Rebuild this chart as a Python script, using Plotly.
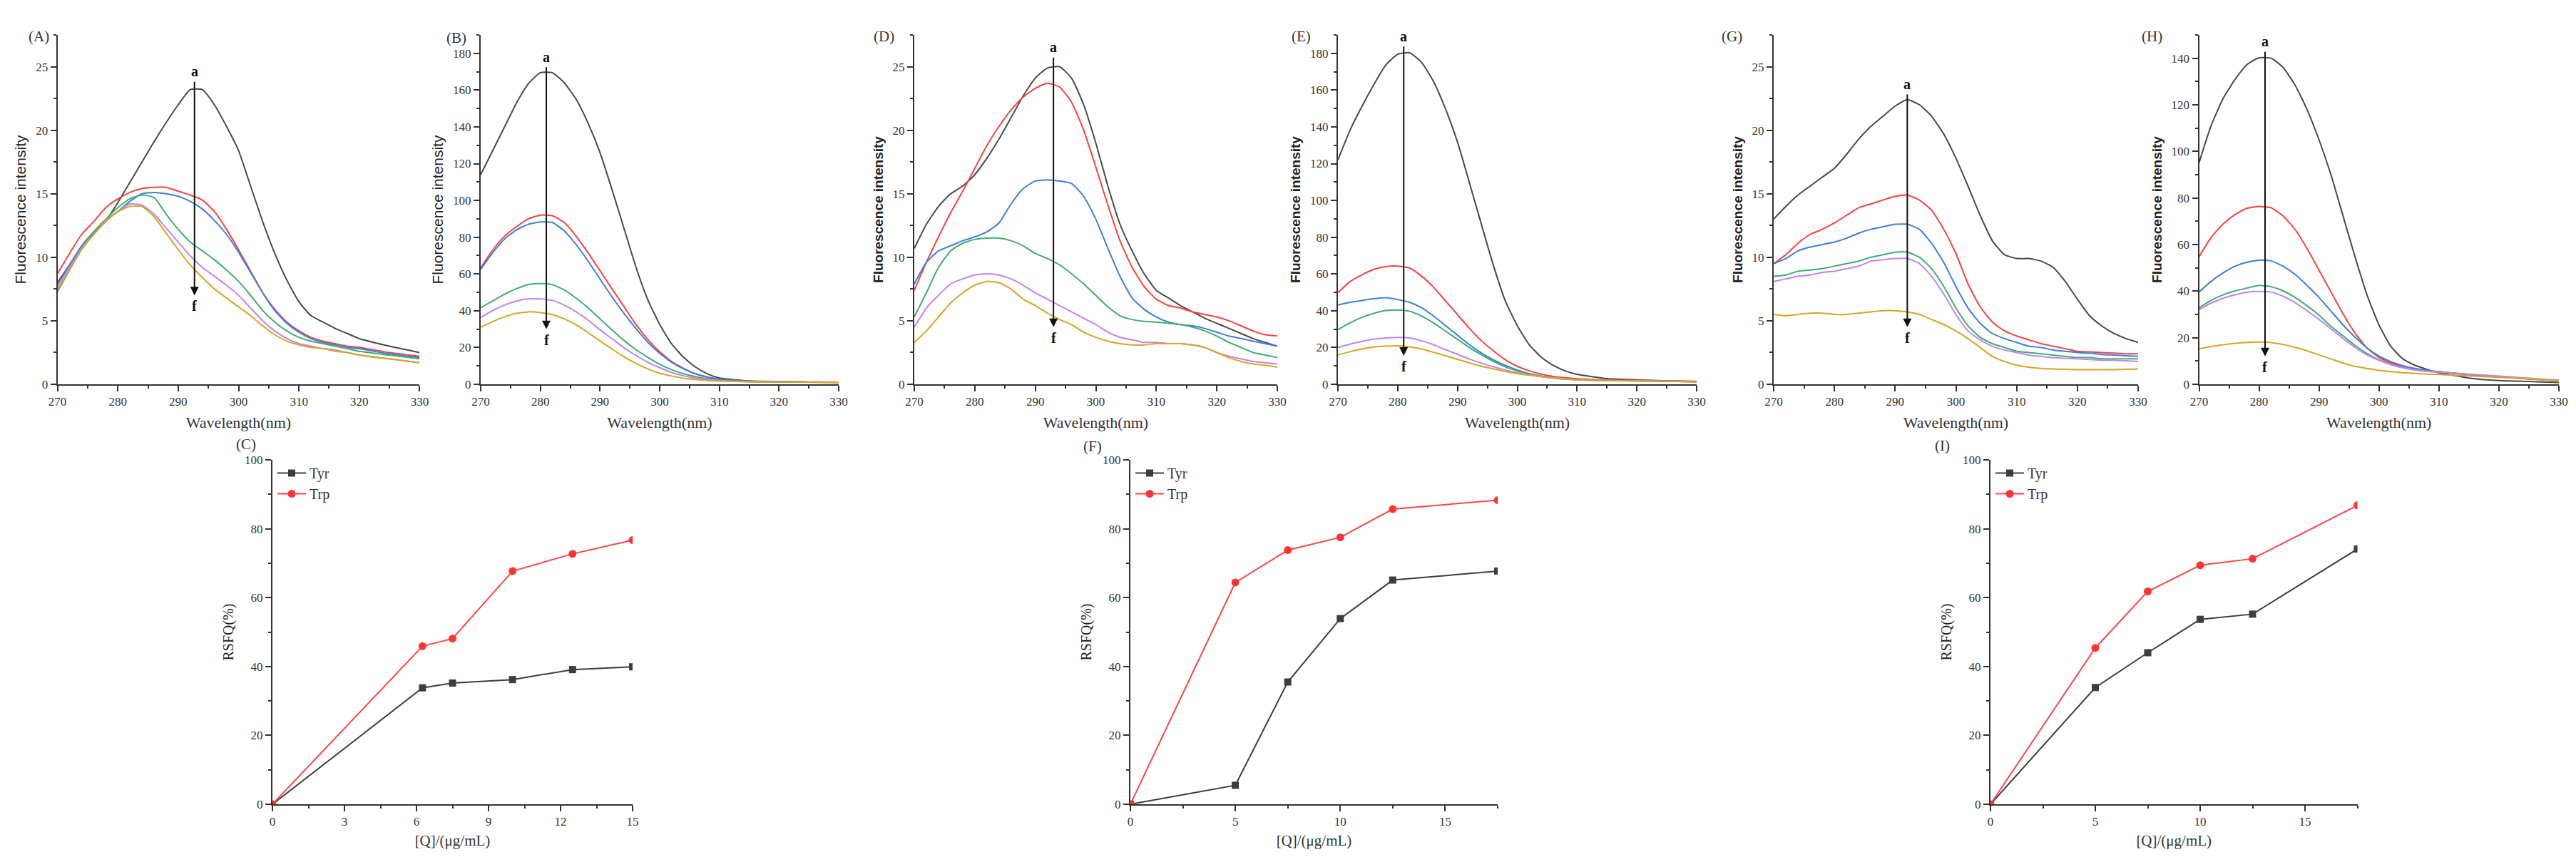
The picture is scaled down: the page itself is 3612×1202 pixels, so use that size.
import plotly.graph_objects as go

W, H = 3612, 1202

# wavelength grids (nm)
WL_A = [270, 272, 274, 276, 278, 280, 282, 284, 286, 288, 290, 292, 294, 296, 298, 300,
        302, 304, 306, 308, 310, 312, 314, 316, 318, 320, 325, 330]
WL_S = [270, 272, 274, 276, 278, 280, 282, 284, 286, 288, 290, 292, 294, 296, 298, 300,
        302, 304, 306, 308, 310, 315, 320, 325, 330]
WL_F = [270, 272, 274, 276, 278, 280, 282, 284, 286, 288, 290, 292, 294, 296, 298, 300,
        302, 304, 306, 308, 310, 312, 314, 316, 318, 320, 322, 324, 326, 328, 330]

# (A) curves a..f
A_a = [8.0, 9.4, 10.8, 11.9, 12.9, 14.3, 15.9, 17.5, 19.1, 20.6, 22.0, 23.2, 23.2, 22.0,
       20.3, 18.4, 15.6, 12.8, 10.3, 8.2, 6.5, 5.4, 4.9, 4.4, 4.0, 3.6, 3.0, 2.5]
A_b = [8.7, 10.3, 11.8, 12.8, 13.9, 14.6, 15.1, 15.4, 15.5, 15.5, 15.2, 14.9, 14.5, 13.6,
       12.2, 10.6, 8.9, 7.2, 5.9, 4.9, 4.2, 3.7, 3.4, 3.2, 3.0, 2.9, 2.5, 2.2]
A_c = [7.8, 9.4, 10.9, 12.0, 12.9, 13.6, 14.4, 15.0, 15.1, 15.0, 14.8, 14.4, 13.8, 12.9,
       11.8, 10.4, 8.8, 7.2, 5.8, 4.8, 4.1, 3.6, 3.3, 3.1, 2.9, 2.8, 2.4, 2.1]
A_d = [7.3, 9.0, 10.7, 12.0, 13.0, 13.9, 14.6, 14.9, 14.7, 13.4, 12.2, 11.2, 10.5, 9.8,
       9.0, 8.1, 7.0, 5.8, 4.9, 4.2, 3.7, 3.4, 3.2, 3.0, 2.8, 2.6, 2.3, 2.0]
A_e = [7.7, 9.2, 10.7, 11.8, 12.8, 13.6, 14.2, 14.1, 13.4, 12.3, 11.2, 10.1, 9.2, 8.5,
       7.8, 7.0, 6.0, 5.0, 4.2, 3.6, 3.2, 3.0, 2.8, 2.7, 2.5, 2.3, 2.0, 1.7]
A_f = [7.5, 9.0, 10.6, 11.8, 12.9, 13.6, 14.0, 14.0, 13.2, 11.9, 10.6, 9.4, 8.4, 7.5,
       6.8, 6.1, 5.4, 4.6, 3.9, 3.4, 3.1, 2.9, 2.8, 2.6, 2.5, 2.3, 2.0, 1.7]

# (B)
B_a = [114, 127, 140, 153, 163.5, 169.5, 169.5, 164, 155, 142, 126, 106, 85, 64, 46, 32.6,
       22, 14.7, 9.4, 5.7, 3.4, 1.8, 1.5, 1.3, 1.2]
B_b = [63.3, 73, 80.5, 85.7, 90, 92, 91.7, 88, 80.5, 71.5, 61.8, 52, 42.3, 32.6, 24.4, 17.7,
       12.4, 8.7, 5.7, 3.9, 2.7, 1.6, 1.4, 1.2, 1.1]
B_c = [62.5, 71.5, 79, 84, 87, 88.3, 88, 83.5, 76, 67, 57.3, 47.6, 38.6, 30.4, 22.9, 16.9,
       12, 8.4, 5.7, 3.9, 2.7, 1.6, 1.4, 1.2, 1.1]
B_d = [41.6, 45.3, 49, 52, 54.3, 54.8, 54.2, 51.3, 46.8, 41.6, 35.6, 29.6, 23.9, 18.9, 14.7,
       10.9, 7.9, 5.7, 4.2, 3.0, 2.2, 1.5, 1.3, 1.2, 1.1]
B_e = [36.4, 40.1, 43.1, 45.3, 46.4, 46.4, 45.6, 43.1, 39.4, 34.9, 29.6, 24.8, 19.9, 15.7, 12,
       9, 6.4, 4.6, 3.4, 2.6, 2.0, 1.5, 1.3, 1.2, 1.1]
B_f = [31.1, 34.1, 36.7, 38.6, 39.4, 39, 37.9, 35.6, 32.3, 28.1, 23.6, 19.2, 15, 11.4, 8.4,
       6, 4.5, 3.3, 2.6, 2.0, 1.7, 1.4, 1.3, 1.2, 1.1]

# (D)
D_a = [10.7, 12.6, 14.0, 15.0, 15.6, 16.5, 17.8, 19.3, 21.0, 22.7, 24.1, 24.9, 25.0, 24.1,
       22.0, 19.0, 15.6, 12.6, 10.5, 8.7, 7.4, 6.8, 6.2, 5.7, 5.2, 4.8, 4.4, 4.0, 3.6, 3.3, 3.0]
D_b = [7.4, 9.6, 11.6, 13.5, 15.2, 17.0, 18.8, 20.3, 21.6, 22.6, 23.3, 23.7, 23.4, 22.2,
       20.0, 17.1, 14.1, 11.3, 9.2, 7.7, 6.7, 6.2, 6.0, 5.7, 5.5, 5.3, 5.0, 4.6, 4.2, 3.9, 3.8]
D_c = [7.9, 9.6, 10.5, 10.9, 11.3, 11.6, 12.0, 12.7, 14.2, 15.4, 16.0, 16.1, 16.0, 15.8,
       14.8, 13.0, 10.7, 8.5, 6.8, 5.9, 5.3, 4.9, 4.7, 4.6, 4.4, 4.1, 3.8, 3.6, 3.4, 3.2, 3.0]
D_d = [5.3, 7.2, 9.2, 10.5, 11.1, 11.4, 11.5, 11.5, 11.3, 10.9, 10.3, 9.9, 9.4, 8.7, 7.9,
       7.0, 6.1, 5.4, 5.1, 4.95, 4.9, 4.8, 4.7, 4.5, 4.2, 3.8, 3.3, 2.9, 2.5, 2.3, 2.1]
D_e = [4.5, 6.0, 7.0, 7.9, 8.3, 8.6, 8.7, 8.6, 8.3, 7.8, 7.2, 6.7, 6.2, 5.7, 5.2, 4.7, 4.1,
       3.7, 3.5, 3.3, 3.3, 3.2, 3.2, 3.1, 2.9, 2.5, 2.2, 2.0, 1.8, 1.7, 1.6]
D_f = [3.3, 4.2, 5.3, 6.4, 7.2, 7.8, 8.1, 8.0, 7.5, 6.7, 6.2, 5.6, 5.1, 4.7, 4.1, 3.7, 3.4,
       3.2, 3.1, 3.1, 3.2, 3.2, 3.2, 3.1, 2.9, 2.5, 2.1, 1.8, 1.6, 1.5, 1.35]

# (E)
E_a = [122, 138, 151, 163, 173.6, 179.5, 180.3, 175, 164.6, 149.7, 131.8, 109.5, 87, 64.7,
       45.3, 31.9, 21.5, 14.8, 10.3, 7.3, 5.4, 3.1, 2.4, 1.8, 1.5]
E_b = [49.8, 55.8, 59.5, 62.5, 64, 64.3, 63.2, 58.8, 52.8, 45.3, 37.9, 30.4, 23.7, 18.2,
       13.3, 9.8, 7.3, 5.5, 4.3, 3.6, 3.0, 2.4, 2.1, 1.8, 1.6]
E_c = [43.1, 44.6, 45.6, 46.5, 47.1, 46.1, 44.6, 41.6, 37.1, 31.9, 26.7, 21.5, 17, 13.3,
       10.3, 7.8, 5.8, 4.5, 3.6, 3.0, 2.5, 2.1, 1.9, 1.7, 1.5]
E_d = [29.7, 33.4, 36.4, 38.6, 40.1, 40.4, 39.7, 37.1, 33.4, 28.9, 24.5, 20, 16, 12.5, 9.5,
       7.3, 5.5, 4.3, 3.4, 2.8, 2.4, 2.0, 1.8, 1.6, 1.4]
E_e = [20, 21.8, 23.3, 24.5, 25.2, 25.5, 25.2, 23.7, 21.5, 18.8, 16.3, 13.7, 11.5, 9.5, 7.8,
       6.3, 5.1, 4.2, 3.4, 2.8, 2.4, 2.0, 1.8, 1.6, 1.4]
E_f = [16, 17.7, 19.2, 20.3, 20.7, 20.9, 20.4, 19.2, 17.4, 15.5, 13.6, 11.6, 9.8, 8.4, 7.0,
       5.8, 4.9, 4.2, 3.6, 3.0, 2.5, 2.0, 1.8, 1.6, 1.4]

# (G)
G_a = [13.0, 14.0, 14.9, 15.6, 16.3, 17.0, 18.1, 19.3, 20.3, 21.1, 21.9, 22.4, 22.0, 21.1,
       19.7, 17.8, 15.6, 13.3, 11.3, 10.2, 9.9, 9.9, 9.7, 9.2, 8.1, 6.7, 5.4, 4.6, 4.0, 3.6, 3.3]
G_b = [9.5, 10.2, 11.1, 11.8, 12.2, 12.7, 13.3, 13.9, 14.2, 14.5, 14.8, 14.9, 14.5, 13.7,
       12.2, 10.3, 7.9, 6.1, 4.9, 4.2, 3.8, 3.5, 3.2, 3.0, 2.8, 2.6, 2.55, 2.5, 2.45, 2.4, 2.4]
G_c = [9.5, 9.9, 10.5, 10.8, 11.0, 11.2, 11.5, 11.9, 12.2, 12.4, 12.6, 12.6, 12.2, 11.1,
       9.6, 7.7, 6.0, 4.8, 4.0, 3.6, 3.3, 3.0, 2.9, 2.7, 2.6, 2.5, 2.45, 2.35, 2.3, 2.25, 2.2]
G_d = [8.5, 8.6, 8.9, 9.0, 9.1, 9.3, 9.5, 9.7, 10.0, 10.2, 10.4, 10.4, 10.0, 9.1, 7.7, 6.0,
       4.6, 3.7, 3.2, 2.9, 2.6, 2.5, 2.4, 2.3, 2.2, 2.1, 2.1, 2.0, 2.0, 2.0, 2.0]
G_e = [8.1, 8.3, 8.5, 8.6, 8.8, 8.9, 9.1, 9.3, 9.7, 9.8, 9.9, 9.9, 9.5, 8.5, 7.1, 5.5, 4.2,
       3.5, 3.0, 2.7, 2.5, 2.3, 2.2, 2.1, 2.05, 2.0, 1.95, 1.9, 1.9, 1.85, 1.8]
G_f = [5.5, 5.4, 5.5, 5.6, 5.6, 5.5, 5.5, 5.6, 5.7, 5.8, 5.8, 5.7, 5.5, 5.1, 4.7, 4.2, 3.6,
       2.9, 2.2, 1.8, 1.5, 1.35, 1.25, 1.2, 1.18, 1.15, 1.15, 1.15, 1.15, 1.18, 1.2]

# (H)
H_a = [95.2, 111, 122.7, 130.9, 137.3, 140.2, 140, 136.1, 128.5, 118, 105, 89.9, 72.3, 54.8,
       38.4, 25.5, 16.2, 10.9, 8.2, 6.4, 5.0, 2.7, 1.6, 1.2, 0.8]
H_b = [54.8, 63, 68.8, 72.9, 75.6, 76.4, 75.8, 72.3, 66.5, 58.3, 49, 39.6, 30.3, 22, 15.6,
       11.5, 9.1, 7.4, 6.4, 5.9, 5.4, 4.2, 3.3, 2.3, 1.5]
H_c = [39.6, 44.2, 47.8, 50.7, 52.4, 53.3, 53, 50.7, 47.2, 42.5, 37.3, 31.4, 25.5, 20.3,
       15.6, 12.1, 9.7, 8.0, 6.8, 6.0, 5.4, 4.2, 3.3, 2.3, 1.5]
H_d = [32.8, 36.1, 38.4, 40.1, 41.3, 42.5, 41.9, 40.1, 37.3, 33.7, 29.7, 24.9, 20.8, 16.7,
       13.2, 10.5, 8.5, 7.1, 6.2, 5.6, 5.2, 4.2, 3.3, 2.4, 1.6]
H_e = [32, 34.9, 36.9, 38.4, 39.6, 39.9, 39.6, 37.8, 35.1, 31.6, 27.9, 23.8, 19.7, 15.9,
       12.6, 10.3, 8.4, 7.1, 6.2, 5.6, 5.3, 4.4, 3.5, 2.6, 1.8]
H_f = [15.2, 16.2, 17, 17.6, 18, 18.1, 17.9, 17.1, 15.9, 14.4, 12.6, 10.9, 9.1, 7.7, 6.8,
       6.0, 5.4, 5.0, 4.7, 4.4, 4.2, 3.6, 3.0, 2.3, 1.5]

# RSFQ panels
Q_C = [0, 6.25, 7.5, 10, 12.5, 15]
TYR_C = [0, 33.8, 35.2, 36.2, 39.1, 39.9]
TRP_C = [0, 45.9, 48.1, 67.7, 72.7, 76.7]
Q_FI = [0, 5, 7.5, 10, 12.5, 17.5]
TYR_F = [0, 5.5, 35.5, 53.9, 65.1, 67.7]
TRP_F = [0, 64.4, 73.8, 77.5, 85.7, 88.3]
TYR_I = [0, 33.9, 44.0, 53.7, 55.2, 74.1]
TRP_I = [0, 45.4, 61.8, 69.4, 71.3, 86.8]

COLORS = ["#4a4a4a", "#ff3f3f", "#3b7fe0", "#3fae6f", "#c184f0", "#d9a520"]
INK = "#333333"
SERIF = "Liberation Serif"
SANS = "Liberation Sans"

# spectra panels: label, wl, curves, ymax, dtick, arrow x, arrow top, arrow head, px box
spectra = [
    ("(A)", WL_A, [A_a, A_b, A_c, A_d, A_e, A_f], 27.5, 5, 292.7, 23.9, 7.0, (72.6, 580.4), (30, 29)),
    ("(B)", WL_S, [B_a, B_b, B_c, B_d, B_e, B_f], 190, 20, 281, 173, 30, (666, 1168), (616, 31)),
    ("(D)", WL_F, [D_a, D_b, D_c, D_d, D_e, D_f], 27.5, 5, 293, 25.8, 4.5, (1274, 1783), (1231, 29)),
    ("(E)", WL_S, [E_a, E_b, E_c, E_d, E_e, E_f], 190, 20, 281, 184.3, 15.5, (1868, 2371), (1816, 29)),
    ("(G)", WL_F, [G_a, G_b, G_c, G_d, G_e, G_f], 27.5, 5, 292, 22.9, 4.5, (2479, 2990), (2437, 29)),
    ("(H)", WL_S, [H_a, H_b, H_c, H_d, H_e, H_f], 150, 20, 281, 143.2, 12.0, (3075.5, 3580), (3026, 29)),
]
rsfq = [
    ("(C)", Q_C, TYR_C, TRP_C, 15, 3, (374, 879), (321, 615)),
    ("(F)", Q_FI, TYR_F, TRP_F, 17.5, 5, (1577, 2092), (1524, 618)),
    ("(I)", Q_FI, TYR_I, TRP_I, 17.5, 5, (2783, 3297.5), (2728, 617)),
]

TOP_ROW = (41, 531)
BOT_ROW = (637, 1120)


def dom_x(a, b):
    return [a / W, b / W]


def dom_y(top, bottom):
    return [1 - bottom / H, 1 - top / H]


def axis_style(dtick, rng):
    return dict(
        range=rng, dtick=dtick, showline=True, linecolor=INK, linewidth=2,
        ticks="outside", ticklen=8, tickwidth=2, tickcolor=INK,
        showgrid=False, zeroline=False, automargin=False,
        tickfont=dict(family=SERIF, size=17, color=INK),
        minor=dict(dtick=dtick / 2, ticks="outside", ticklen=4, tickwidth=2, tickcolor=INK),
    )


fig = go.Figure()
layout = {}
annotations = []

for i, (label, wl, curves, ymax, ydt, axx, atop, ahead, (x0, x1), (lx, ly)) in enumerate(spectra, start=1):
    for curve, color in zip(curves, COLORS):
        fig.add_trace(go.Scatter(
            x=wl, y=curve, mode="lines", showlegend=False, hoverinfo="skip",
            line=dict(color=color, width=2, shape="spline", smoothing=0.5),
            xaxis=f"x{i}", yaxis=f"y{i}",
        ))
    xa = axis_style(10, [270, 330])
    xa.update(domain=dom_x(x0, x1), anchor=f"y{i}",
              title=dict(text="Wavelength(nm)", font=dict(family=SERIF, size=22, color=INK), standoff=12))
    ya = axis_style(ydt, [0, ymax])
    bold = i > 2
    ya.update(domain=dom_y(*TOP_ROW), anchor=f"x{i}",
              title=dict(text="<b>Fluorescence intensity</b>" if bold else "Fluorescence intensity",
                         font=dict(family=SANS, size=19 if bold else 21, color="#222"), standoff=8))
    layout[f"xaxis{i}"] = xa
    layout[f"yaxis{i}"] = ya

    xr, yr = f"x{i}", f"y{i}"
    annotations.append(dict(x=axx, y=ahead, ax=axx, ay=atop, xref=xr, yref=yr, axref=xr, ayref=yr,
                            text="", showarrow=True, arrowhead=2, arrowsize=1.2, arrowwidth=2,
                            arrowcolor="#111", standoff=0, startstandoff=0))
    annotations.append(dict(x=axx, y=atop, xref=xr, yref=yr, text="<b>a</b>", showarrow=False,
                            yanchor="bottom", font=dict(family=SERIF, size=20, color="#111")))
    annotations.append(dict(x=axx, y=ahead, xref=xr, yref=yr, text="<b>f</b>", showarrow=False,
                            yanchor="top", yshift=-2, font=dict(family=SERIF, size=20, color="#111")))
    annotations.append(dict(x=lx / W, y=1 - ly / H, xref="paper", yref="paper", text=label,
                            showarrow=False, font=dict(family=SERIF, size=21, color=INK)))

for j, (label, q, tyr, trp, xmax, xdt, (x0, x1), (lx, ly)) in enumerate(rsfq, start=7):
    leg = "legend" if j == 7 else f"legend{j - 6}"
    fig.add_trace(go.Scatter(
        x=q, y=tyr, name="Tyr", mode="lines+markers", legend=leg,
        line=dict(color="#3d3d3d", width=2), marker=dict(symbol="square", size=10, color="#3d3d3d"),
        xaxis=f"x{j}", yaxis=f"y{j}",
    ))
    fig.add_trace(go.Scatter(
        x=q, y=trp, name="Trp", mode="lines+markers", legend=leg,
        line=dict(color="#ff4545", width=2), marker=dict(symbol="circle", size=11, color="#ff3333"),
        xaxis=f"x{j}", yaxis=f"y{j}",
    ))
    xa = axis_style(xdt, [0, xmax])
    xa.update(domain=dom_x(x0, x1), anchor=f"y{j}",
              title=dict(text="[Q]/(μg/mL)", font=dict(family=SERIF, size=21, color=INK), standoff=10))
    ya = axis_style(20, [0, 100])
    ya.update(domain=dom_y(*BOT_ROW), anchor=f"x{j}",
              title=dict(text="RSFQ(%)", font=dict(family=SERIF, size=20, color="#222"), standoff=10))
    layout[f"xaxis{j}"] = xa
    layout[f"yaxis{j}"] = ya
    layout[leg] = dict(x=(x0 + 2) / W, y=1 - 636 / H, xanchor="left", yanchor="top",
                       bgcolor="rgba(0,0,0,0)", itemwidth=40, tracegroupgap=0,
                       font=dict(family=SERIF, size=20, color=INK))
    annotations.append(dict(x=lx / W, y=1 - ly / H, xref="paper", yref="paper", text=label,
                            showarrow=False, font=dict(family=SERIF, size=21, color=INK)))

fig.update_layout(
    width=W, height=H, template="none",
    paper_bgcolor="white", plot_bgcolor="white",
    margin=dict(l=0, r=0, t=0, b=0, pad=0),
    annotations=annotations,
    **layout,
)

fig.write_html("out.html")
